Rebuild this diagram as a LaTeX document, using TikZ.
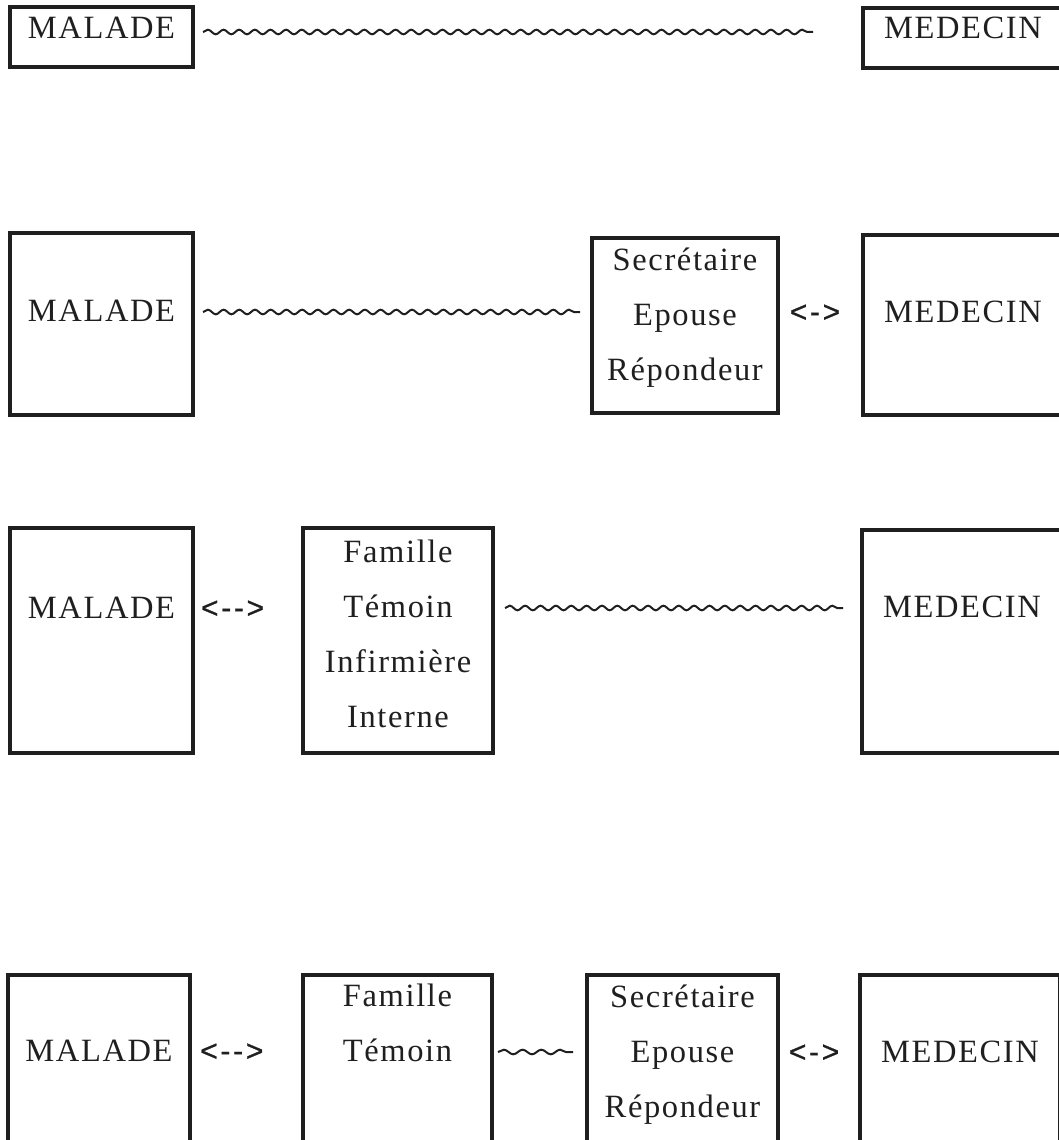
\documentclass[tikz,border=0pt]{standalone}
\usepackage{fontspec}
\setmainfont{Liberation Serif}[LetterSpace=5]
\newfontfamily\arrfont{Liberation Sans}[LetterSpace=9, FakeBold=0.8]
\usetikzlibrary{decorations.pathmorphing,calc}
\definecolor{ink}{gray}{0.12}
\begin{document}
\begin{tikzpicture}[x=1pt,y=-1pt,
  box/.style={draw=ink, line width=3.2pt, inner sep=0pt, outer sep=0pt, anchor=north west},
  lbl/.style={anchor=base, inner sep=0pt, text=ink, font=\fontsize{32.5}{38}\selectfont},
  arr/.style={anchor=base, inner sep=0pt, text=ink, font=\arrfont\fontsize{30}{36}\selectfont},
  wave/.style={draw=ink, line width=2pt, decorate,
    decoration={snake, amplitude=2.3pt, segment length=#1}}]
\useasboundingbox (0,0) rectangle (1058,1140);

% ---------- Row 1
\node[box, minimum width=183pt, minimum height=60pt] (mal1) at (10,7) {};
\node[box, minimum width=200pt, minimum height=60pt] (med1) at (863,8) {};
\node[lbl] (tmal1) at (mal1.north |- 0,38) {MALADE};
\node[lbl] (tmed1) at (med1.north |- 0,38) {MEDECIN};
\draw[wave=15.64pt] ($(mal1.east |- tmal1.base)+(10,-6)$) -- ($(med1.west |- tmal1.base)+(-50,-6)$);

% ---------- Row 2
\node[box, minimum width=183pt, minimum height=182pt] (mal2) at (10,233) {};
\node[box, minimum width=186pt, minimum height=175pt] (sec2) at (592,238) {};
\node[box, minimum width=200pt, minimum height=180pt] (med2) at (863,235) {};
\node[lbl] (tmal2) at (mal2.north |- 0,321) {MALADE};
\node[lbl] (tsec2a) at (sec2.north |- 0,270) {Secrétaire};
\node[lbl] (tsec2b) at (sec2.north |- 0,325) {Epouse};
\node[lbl] (tsec2c) at (sec2.north |- 0,380) {Répondeur};
\node[lbl] (tmed2) at (med2.north |- 0,322) {MEDECIN};
\draw[wave=15.7pt] ($(mal2.east |- tmal2.base)+(10,-9)$) -- ($(sec2.west |- tmal2.base)+(-12,-9)$);
\path (sec2.east |- tmed2.base) -- node[arr, pos=0.435] (a2) {<->} (med2.west |- tmed2.base);

% ---------- Row 3
\node[box, minimum width=183pt, minimum height=225pt] (mal3) at (10,528) {};
\node[box, minimum width=190pt, minimum height=225pt] (fam3) at (303,528) {};
\node[box, minimum width=200pt, minimum height=223pt] (med3) at (862,530) {};
\node[lbl] (tmal3) at (mal3.north |- 0,618) {MALADE};
\node[lbl] (tfam3a) at (fam3.north |- 0,562) {Famille};
\node[lbl] (tfam3b) at (fam3.north |- 0,617) {Témoin};
\node[lbl] (tfam3c) at (fam3.north |- 0,672) {Infirmière};
\node[lbl] (tfam3d) at (fam3.north |- 0,727) {Interne};
\node[lbl] (tmed3) at (med3.north |- 0,617) {MEDECIN};
\path (mal3.east |- tmal3.base) -- node[arr, pos=0.36] (a3) {<-{}->} (fam3.west |- tmal3.base);
\draw[wave=15.36pt] ($(fam3.east |- tfam3b.base)+(12,-9)$) -- ($(med3.west |- tfam3b.base)+(-19,-9)$);

% ---------- Row 4
\node[box, minimum width=182pt, minimum height=200pt] (mal4) at (8,975) {};
\node[box, minimum width=189pt, minimum height=200pt] (fam4) at (303,975) {};
\node[box, minimum width=191pt, minimum height=200pt] (sec4) at (587,975) {};
\node[box, minimum width=200pt, minimum height=200pt] (med4) at (860,975) {};
\node[lbl] (tmal4) at (mal4.north |- 0,1061) {MALADE};
\node[lbl] (tfam4a) at (fam4.north |- 0,1006) {Famille};
\node[lbl] (tfam4b) at (fam4.north |- 0,1061) {Témoin};
\node[lbl] (tsec4a) at (sec4.north |- 0,1007) {Secrétaire};
\node[lbl] (tsec4b) at (sec4.north |- 0,1062) {Epouse};
\node[lbl] (tsec4c) at (sec4.north |- 0,1117) {Répondeur};
\node[lbl] (tmed4) at (med4.north |- 0,1062) {MEDECIN};
\path (mal4.east |- tmal4.base) -- node[arr, pos=0.37] (a4) {<-{}->} (fam4.west |- tmal4.base);
\draw[wave=18.75pt] ($(fam4.east |- tfam4b.base)+(6,-9)$) -- ($(sec4.west |- tfam4b.base)+(-14,-9)$);
\path (sec4.east |- tmed4.base) -- node[arr, pos=0.44] (a4b) {<->} (med4.west |- tmed4.base);
\end{tikzpicture}
\end{document}
